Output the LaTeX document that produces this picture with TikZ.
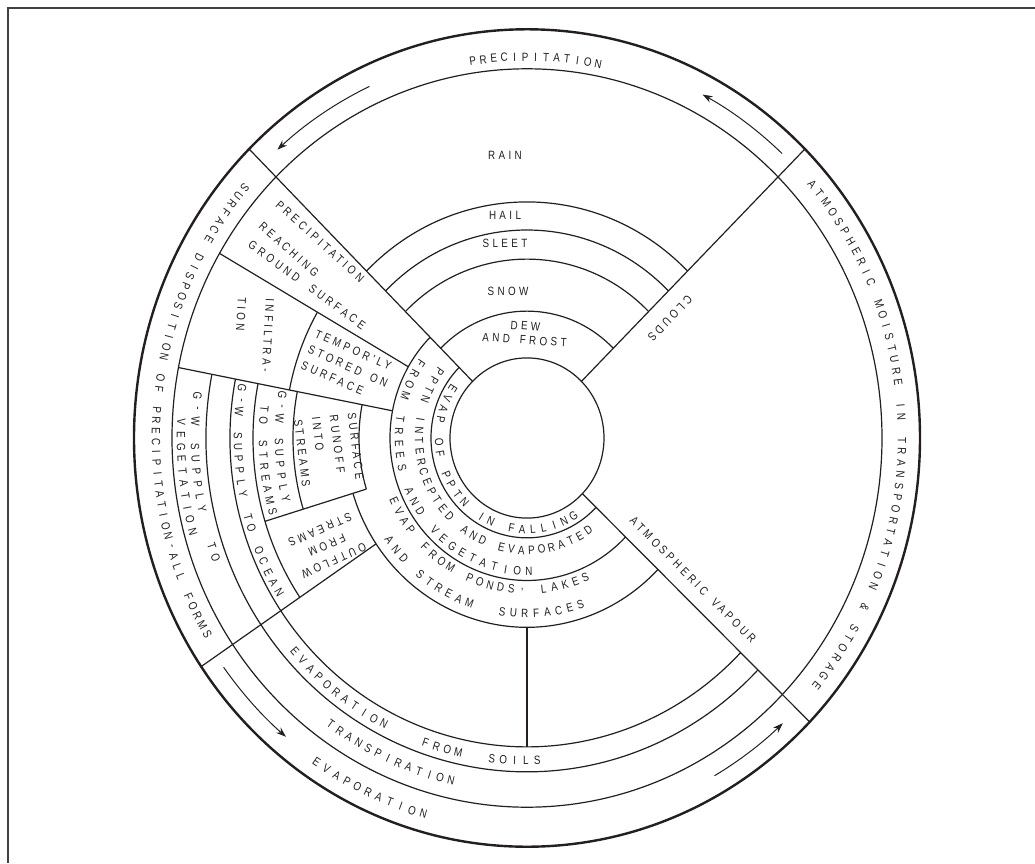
\documentclass[tikz,border=0pt]{standalone}
\usepackage{fontspec}
\usetikzlibrary{arrows.meta}
\newfontfamily\lblfam[FakeStretch=0.82,LetterSpace=28]{Liberation Sans}
\newfontfamily\chrfam[FakeStretch=0.82]{Liberation Sans}
\newcommand{\lblfont}{\lblfam\fontsize{12}{14}\selectfont}
\newcommand{\chrfont}{\chrfam\fontsize{12}{14}\selectfont}
\newcommand{\stackfont}[1]{\lblfam\fontsize{12}{#1}\selectfont}
\definecolor{ink}{HTML}{241E1E}
\newcommand{\ringarc}[3]{\draw[ln] (#1:#3) arc[start angle=#1,end angle=#2,radius=#3];}
\newcommand{\spoke}[3]{\draw[ln] (#1:#2) -- (#1:#3);}
% letters set one by one round the centre: start, step, radius, turn, text (* = gap)
\newcommand{\arctext}[5]{\def\arcang{#1}\def\arcstep{#2}\def\arcrad{#3}\def\arcturn{#4}\arcloop#5\relax}
\def\arcloop#1{\ifx#1\relax\else\arcchar{#1}\expandafter\arcloop\fi}
\def\arcchar#1{\if*#1\else\node[chr,rotate=\arcang+\arcturn] at (\arcang:\arcrad) {#1};\fi
  \pgfmathsetmacro\arcang{\arcang+\arcstep}}
\begin{document}
\begin{tikzpicture}[x=1pt,y=1.04pt,
  ln/.style={draw=ink,line width=1.2pt},
  rim/.style={draw=ink,line width=2.4pt},
  flow/.style={draw=ink,line width=1pt,-{Stealth[length=10pt,width=7pt]}},
  lbl/.style={font=\lblfont,text=ink,inner sep=0pt},
  chr/.style={font=\chrfont,text=ink,inner sep=0pt},
]
  \useasboundingbox (-527pt,-425pt) rectangle (508pt,438pt);
  \draw[ink!85,line width=1.5pt] (-519pt,-425pt) -- (-519pt,430pt) -- (508pt,430pt);

  \draw[rim] (0,0) circle[radius=393];
  \draw[ln] (0,0) circle[radius=355];
  \draw[ln] (0,0) circle[radius=77];

  \spoke{45}{77}{393}
  \spoke{135}{77}{393}
  \spoke{-44}{77}{393}
  \spoke{214}{182}{393}
  \spoke{150}{137}{355}
  \spoke{169}{137}{355}
  \spoke{197}{168}{274}
  \spoke{270}{182}{297}

  \ringarc{45}{135}{227}
  \ringarc{45}{135}{200}
  \ringarc{45}{135}{172}
  \ringarc{45}{135}{122}
  \ringarc{135}{316}{96}
  \ringarc{135}{316}{137}
  \ringarc{197}{316}{182}
  \ringarc{169}{197}{168}
  \ringarc{150}{169}{242}
  \ringarc{169}{316}{321}
  \ringarc{169}{316}{297}
  \ringarc{169}{214}{274}
  \ringarc{169}{197}{234}

  \draw[flow] (47:374) arc[start angle=47,end angle=62,radius=374];
  \draw[flow] (115:373) arc[start angle=115,end angle=132,radius=373];
  \draw[flow] (216:375) arc[start angle=216,end angle=230,radius=375];
  \draw[flow] (300:375) arc[start angle=300,end angle=313,radius=375];

  \arctext{98.5}{-1.642}{366.5}{-90}{PRECIPITATION}
  \arctext{40.5}{-1.70}{375}{-90}{ATMOSPHERIC*MOISTURE*IN*TRANSPORTATION*\&*STORAGE}
  \arctext{139.5}{1.578}{371}{90}{SURFACE*DISPOSITION*OF*PRECIPITATION-ALL*FORMS}
  \arctext{236}{1.8}{376}{90}{EVAPORATION}
  \arctext{234.5}{1.875}{338}{90}{TRANSPIRATION}
  \arctext{221.5}{2.1}{310}{90}{EVAPORATION***FROM**SOILS}
  \arctext{173}{2.1}{332}{90}{G-W*SUPPLY**TO}
  \arctext{177.5}{1.95}{346}{90}{VEGETATION}
  \arctext{170.5}{2.25}{289}{90}{G-W*SUPPLY*TO*OCEAN}
  \arctext{170.5}{2.56}{248}{90}{G-W*SUPPLY}
  \arctext{174}{2.39}{264}{90}{TO*STREAMS}
  \arctext{147.5}{7.02}{88}{90}{EVAP*OF*PPTN*IN*FALLING}
  \arctext{144}{5.35}{108}{90}{PPTN*INTERCEPTED*AND*EVAPORATED}
  \arctext{146}{5.2}{128}{90}{FROM*TREES*AND*VEGETATION}
  \arctext{204.5}{4.24}{146}{90}{EVAP*FROM*PONDS,*LAKES}
  \arctext{215.5}{3.84}{169}{90}{AND*STREAM**SURFACES}

  \node[lbl] (rain) at (-22,272) {RAIN};
  \node[lbl] (hail) at (-22,214) {HAIL};
  \node[lbl] (sleet) at (-22,187.5) {SLEET};
  \node[lbl] (snow) at (-19,141) {SNOW};
  \node[lbl,align=center,rotate=-4] (dew) at (-2,101) {DEW\\AND\hspace{10pt}FROST};
  \node[lbl,rotate=226] (clouds) at (143,115) {CLOUDS};
  \node[lbl,rotate=-45] (vapour) at (166,-136.5) {ATMOSPHERIC\hspace{10pt}VAPOUR};
  \node[lbl,rotate=-42] (reach1) at (-207,189) {PRECIPITATION};
  \node[lbl,rotate=-42] (reach2) at (-238,181) {REACHING};
  \node[lbl,rotate=-36] (reach3) at (-220,147) {GROUND\hspace{14pt}SURFACE};
  \node[lbl,align=left,rotate=-24,font=\stackfont{17}] (stored) at (-179,69) {TEMPOR'LY\\STORED\hspace{10pt}ON\\SURFACE};
  \node[lbl,align=left,rotate=-93,font=\stackfont{28}] (infil) at (-273,99.5) {INFILTRA-\\TION};
  \node[lbl,align=left,rotate=-83,font=\stackfont{18}] (runoff) at (-198,-11.5) {SURFACE\\RUNOFF\\INTO\\STREAMS};
  \node[lbl,align=center,rotate=204,font=\stackfont{17}] (outflow) at (-200,-103) {OUTFLOW\\FROM\\STREAMS};
\end{tikzpicture}
\end{document}
